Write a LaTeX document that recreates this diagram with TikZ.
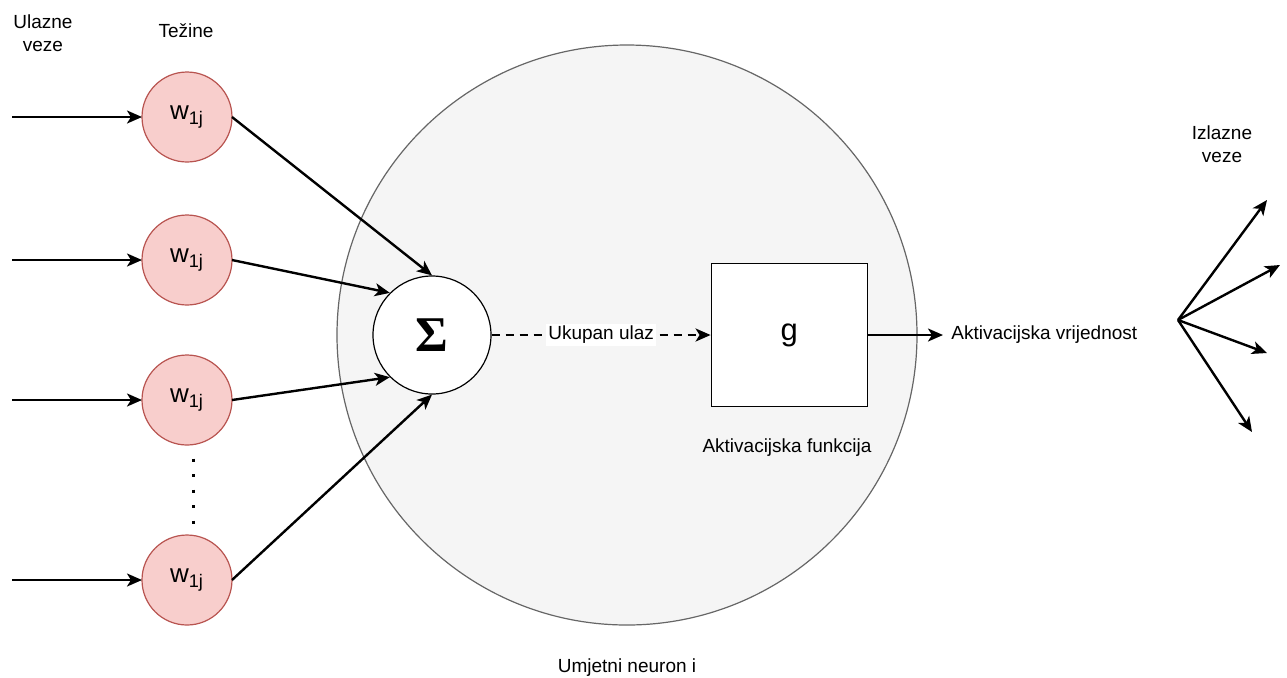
\documentclass[tikz,border=0pt]{standalone}
\usepackage{fontspec}
\setmainfont{Liberation Sans}
\newfontfamily\sigmafont{Liberation Serif}
\usetikzlibrary{positioning}
\usetikzlibrary{arrows.meta}

\definecolor{weightfill}{HTML}{F8CECC}
\definecolor{weightdraw}{HTML}{B85450}
\definecolor{neuronfill}{HTML}{F5F5F5}
\definecolor{neurondraw}{HTML}{666666}

\begin{document}
\begin{tikzpicture}[x=0.5pt, y=-0.5pt,
>={Stealth[length=7.5pt, width=6.5pt, inset=2pt]},
every node/.style={font=\fontsize{9.5}{11.5}\selectfont},
weight/.style={circle, draw=weightdraw, fill=weightfill, line width=0.6pt, minimum size=45pt, inner sep=0pt, outer sep=0pt, font=\fontsize{13}{15}\selectfont},
neuron/.style={circle, draw=neurondraw, fill=neuronfill, line width=0.6pt, minimum size=290pt, inner sep=0pt},
sum/.style={circle, draw=black, fill=white, line width=0.6pt, minimum size=59pt, inner sep=0pt},
func/.style={rectangle, draw=black, fill=white, line width=0.6pt, minimum width=78pt, minimum height=71.5pt, inner sep=0pt, font=\fontsize{15.5}{18}\selectfont},
link/.style={->, line width=1.2pt},]

\useasboundingbox (0,0) rectangle (1287,677);

\node[neuron] (neuron) at (627,335) {};
\node[anchor=base] (neuronlabel) at (627,672) {Umjetni neuron i};

\node[weight] (w1) at (187,117) {w\textsubscript{1j}};
\node[weight, node distance=26.5pt] (w2) [below=of w1] {w\textsubscript{1j}};
\node[weight, node distance=25pt] (w3) [below=of w2] {w\textsubscript{1j}};
\node[weight, node distance=45pt] (w4) [below=of w3] {w\textsubscript{1j}};
\draw[line width=1.5pt, dash pattern=on 1.5pt off 6.25pt] (193,458.5) -- (193,523.5);

\node[align=center] (inlabel) at (43,33) {Ulazne\\veze};
\node[anchor=base] (wlabel) at (186,37) {Težine};

\coordinate (in1) at (12,117);
\coordinate (in2) at (in1 |- w2.west);
\coordinate (in3) at (in1 |- w3.west);
\coordinate (in4) at (in1 |- w4.west);

\draw[link] (in1) -- (w1.west);
\draw[link] (in2) -- (w2.west);
\draw[link] (in3) -- (w3.west);
\draw[link] (in4) -- (w4.west);

\node[sum] (sum) at (432,335) {\sigmafont\bfseries\fontsize{25}{25}\selectfont Σ};
\node[func, node distance=109.5pt] (g) [right=of sum] {g};
\node[anchor=base] (glabel) at (787,452) {Aktivacijska funkcija};

\draw[link] (w1.east) -- (sum.north);
\draw[link] (w2.east) -- (sum.north west);
\draw[link] (w3.east) -- (sum.south west);
\draw[link] (w4.east) -- (sum.south);

\draw[link, dash pattern=on 4pt off 3pt] (sum.east) -- node[fill=white, inner sep=1pt] {Ukupan ulaz} (g.west);

\node[anchor=west, inner sep=4pt] (value) at (943,335) {Aktivacijska vrijednost};
\draw[link] (g.east) -- (value.west);

\node[align=center] (outlabel) at (1222,144) {Izlazne\\veze};

\coordinate (fan) at (1178,320);
\coordinate (out1) at (1267,200);
\coordinate (out2) at (1280,265);
\coordinate (out3) at (1267,353);
\coordinate (out4) at (1252,432);

\draw[link] (fan) -- (out1);
\draw[link] (fan) -- (out2);
\draw[link] (fan) -- (out3);
\draw[link] (fan) -- (out4);

\end{tikzpicture}
\end{document}
